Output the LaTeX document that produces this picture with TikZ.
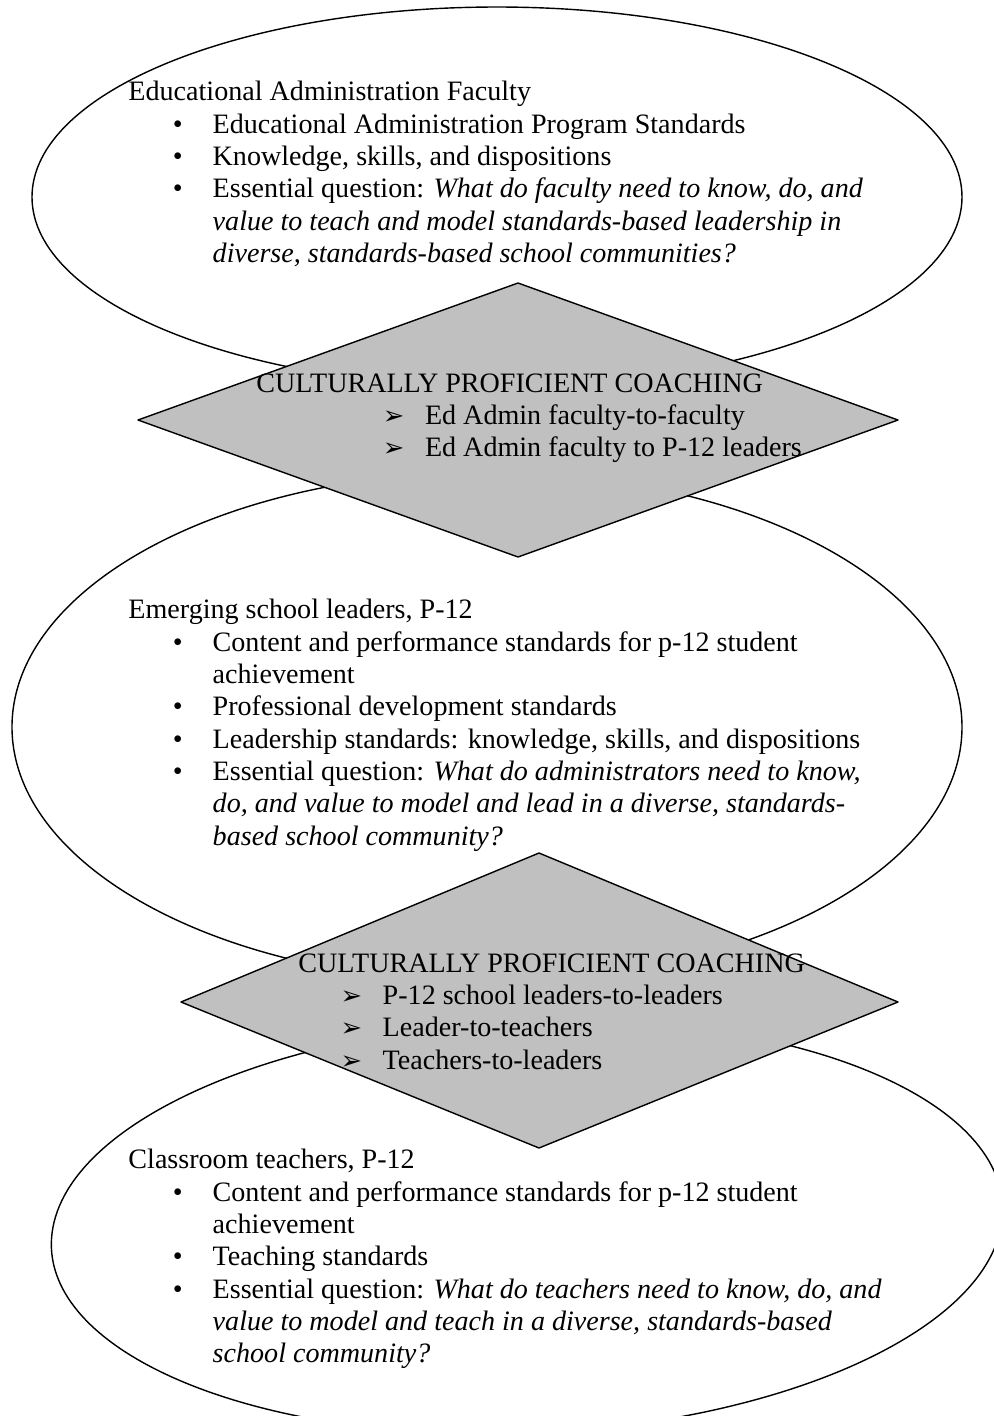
\documentclass[tikz,border=0pt]{standalone}
\usepackage{fontspec}
\setmainfont{Liberation Serif}
\newfontfamily\dingfont{DejaVu Sans}
\usepackage{xcolor}
\usepackage{tikz}
\tikzset{>=latex}
\usetikzlibrary{calc}

\definecolor{coachgray}{RGB}{192,192,192}
\newcommand{\bul}{\makebox[36pt][l]{\hspace{19pt}\textbullet}}
\newcommand{\cnt}{\hspace*{36pt}}
\newcommand{\arw}[1]{\hspace*{#1}\makebox[18pt][l]{\dingfont\fontsize{11}{11}\selectfont ➢}}

\begin{document}
\begin{tikzpicture}[line join=round,x=0.4272pt,y=-0.4272pt,
    ring/.style={draw=black,line width=0.6pt},
    coach/.style={draw=black,fill=coachgray,line width=0.6pt},
    txt/.style={anchor=base west,align=left,inner sep=0pt,font=\fontsize{12}{13.8}\selectfont}]
	\useasboundingbox (0,0) rectangle (994,1416);
	\clip (0,0) rectangle (994,1416);
	\draw[ring] (497,197) ellipse (465 and 190);
	\draw[ring] (487,727) ellipse (475 and 255);
	\draw[ring,shift={(527,1227)},xslant=0.19] (0,0) ellipse (474 and 207);
	\draw[coach] (138,420) -- (518,283) -- (898,420) -- (518,557) -- cycle;
	\draw[coach] (181,1002) -- (539,853) -- (898,1002) -- (539,1148) -- cycle;
	% base of each text block = baseline of its last line
	\node[txt] (faculty) at (128,262.5) {Educational Administration Faculty\\
		\bul Educational Administration Program Standards\\
		\bul Knowledge, skills, and dispositions\\
		\bul Essential question: \textit{What do faculty need to know, do, and}\\
		\cnt\textit{value to teach and model standards-based leadership in}\\
		\cnt\textit{diverse, standards-based school communities?}};
	\node[txt] (coachA) at (256,456.6) {CULTURALLY PROFICIENT COACHING\\
		\arw{54pt}Ed Admin faculty-to-faculty\\
		\arw{54pt}Ed Admin faculty to P-12 leaders};
	\node[txt] (leaders) at (128,845) {Emerging school leaders, P-12\\
		\bul Content and performance standards for p-12 student\\
		\cnt achievement\\
		\bul Professional development standards\\
		\bul Leadership standards: knowledge, skills, and dispositions\\
		\bul Essential question: \textit{What do administrators need to know,}\\
		\cnt\textit{do, and value to model and lead in a diverse, standards-}\\
		\cnt\textit{based school community?}};
	\node[txt] (coachB) at (298,1069) {CULTURALLY PROFICIENT COACHING\\
		\arw{18pt}P-12 school leaders-to-leaders\\
		\arw{18pt}Leader-to-teachers\\
		\arw{18pt}Teachers-to-leaders};
	\node[txt] (teachers) at (128,1362.8) {Classroom teachers, P-12\\
		\bul Content and performance standards for p-12 student\\
		\cnt achievement\\
		\bul Teaching standards\\
		\bul Essential question: \textit{What do teachers need to know, do, and}\\
		\cnt\textit{value to model and teach in a diverse, standards-based}\\
		\cnt\textit{school community?}};
\end{tikzpicture}
\end{document}
